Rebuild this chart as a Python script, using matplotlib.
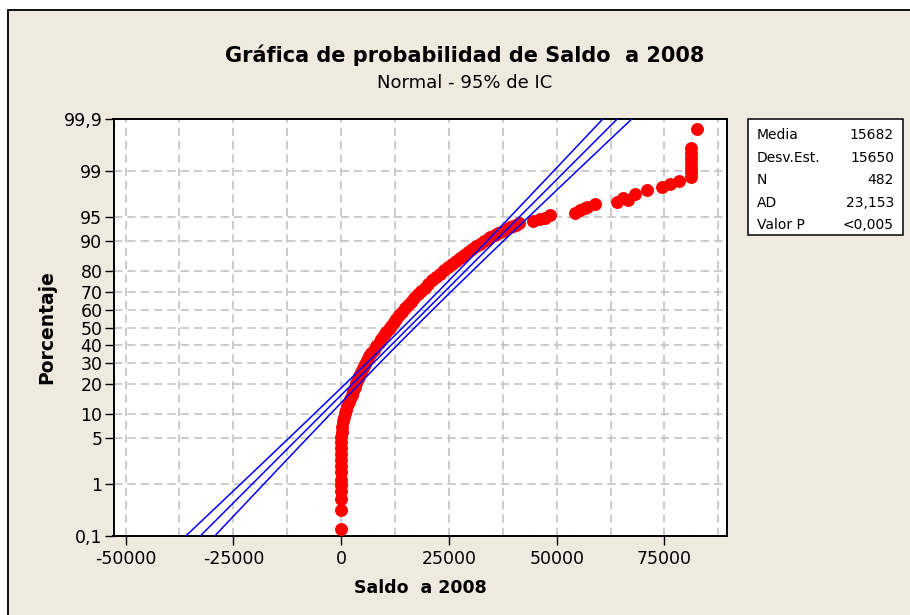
import math
import numpy as np
import matplotlib
matplotlib.use('Agg')
import matplotlib.pyplot as plt
from matplotlib.patches import Rectangle

# puntos (valor, porcentaje)
saldo = [0, 0, 0, 0, 0, 0, 0, 0, 0, 0,
         0, 0, 0, 100, 230, 460, 700, 930, 1160, 1390, 1740, 2090, 2440,
         2780, 3130, 3480, 3830, 4180, 4640, 5100, 5570, 6030, 6500,
         6960, 7540, 8120, 8700, 9280, 9860, 10440, 11020, 11600, 12180,
         12760, 13460, 14150, 14850, 15550, 16240, 16940, 17750, 18560, 19370,
         20180, 21110, 22040, 22970, 23900, 24820, 25750, 26680, 27610, 28540,
         29460, 30390, 31320, 32250, 33180, 34100, 34570, 35730, 36420, 37580,
         38280, 39200, 39900, 40600, 41300,
         44540, 46170, 47330, 48490, 54290, 55450, 56610, 57070, 58930,
         64030, 65420, 66580, 68210, 70990, 74470, 76330, 78420,
         81200, 81200, 81200, 81200, 81200, 81200, 81200, 82590]
porcentaje = [0.14, 0.34, 0.55, 0.77, 0.98, 1.19, 1.61, 2.0, 2.5, 3.05,
              3.7, 4.5, 5.2, 6.1, 7.0, 8.3, 9.25, 10.3, 11.1, 12.2, 13.5, 14.5, 15.9,
              17.3, 18.9, 20.6, 22.1, 23.6, 25.5, 27.4, 29.4, 31.5, 33.4,
              35.3, 37.2, 39.2, 41.2, 43.2, 45.3, 47.3, 49.1, 50.9, 53.0,
              55.0, 57.1, 59.1, 61.1, 63.0, 65.0, 66.9, 68.8, 70.6, 72.3,
              74.0, 75.7, 77.3, 78.8, 80.3, 81.5, 82.7, 83.8, 84.8, 85.9,
              86.8, 87.8, 88.6, 89.3, 90.0, 90.5, 91.0, 91.5, 91.9, 92.4,
              92.8, 93.1, 93.4, 93.65, 93.9,
              94.27, 94.6, 94.76, 95.2, 95.5, 95.9, 96.2, 96.3, 96.6,
              96.85, 97.25, 97.05, 97.6, 97.9, 98.13, 98.32, 98.5,
              98.71, 98.94, 99.09, 99.26, 99.4, 99.51, 99.61, 99.84]

media = 15682
desv = 15650
n = 482
stats_labels = ['Media', 'Desv.Est.', 'N', 'AD', 'Valor P']
stats_values = ['15682', '15650', '482', '23,153', '<0,005']

yticks = [0.1, 1, 5, 10, 20, 30, 40, 50, 60, 70, 80, 90, 95, 99, 99.9]
ytick_labels = ['0,1', '1', '5', '10', '20', '30', '40', '50', '60', '70',
                '80', '90', '95', '99', '99,9']
xticks = [-50000, -25000, 0, 25000, 50000, 75000]
xminor = [-37500, -12500, 12500, 37500, 62500, 87500]

a = [-3.969683028665376e+01, 2.209460984245205e+02, -2.759285104469687e+02,
     1.383577518672690e+02, -3.066479806614716e+01, 2.506628277459239e+00]
b = [-5.447609879822406e+01, 1.615858368580409e+02, -1.556989798598866e+02,
     6.680131188771972e+01, -1.328068155922803e+01]
c = [-7.784894002430293e-03, -3.223964580411365e-01, -2.400758277161838e+00,
     -2.549732539343734e+00, 4.374664141464968e+00, 2.938163982698783e+00]
d = [7.784695709041462e-03, 3.224671290700398e-01, 2.445134137142996e+00,
     3.754408661907416e+00]


def ppf(p):
    p = np.clip(np.asarray(p, float), 1e-12, 1 - 1e-12)
    q = p - 0.5
    r = q * q
    central = (((((a[0]*r+a[1])*r+a[2])*r+a[3])*r+a[4])*r+a[5])*q / \
              (((((b[0]*r+b[1])*r+b[2])*r+b[3])*r+b[4])*r+1)
    pt = np.minimum(p, 1 - p)
    s = np.sqrt(-2 * np.log(pt))
    tail = (((((c[0]*s+c[1])*s+c[2])*s+c[3])*s+c[4])*s+c[5]) / \
           ((((d[0]*s+d[1])*s+d[2])*s+d[3])*s+1)
    tail = np.where(p < 0.5, tail, -tail)
    return np.where(pt < 0.02425, tail, central)


erf = np.vectorize(math.erf)


def cdf(z):
    return 0.5 * (1 + erf(np.asarray(z, float) / math.sqrt(2)))


def fwd(p):
    return ppf(np.asarray(p, float) / 100)


def inv(z):
    return cdf(z) * 100


fig = plt.figure(figsize=(9.1, 6.15), dpi=100, facecolor='white')
fig.patches.append(Rectangle((8 / 910, -0.1), 1.2, 1 - 10 / 615 + 0.1,
                             transform=fig.transFigure, facecolor='#eeeae0',
                             edgecolor='black', linewidth=1.3, zorder=-10))

ax = fig.add_axes([113.5 / 910, 1 - 536 / 615, (727 - 113.5) / 910, (536 - 119) / 615])
ax.set_yscale('function', functions=(fwd, inv))
ax.set_xlim(-52800, 89500)
ax.set_ylim(0.1, 99.9)

# linea ajustada e intervalos de confianza
z = np.linspace(ppf(0.001), ppf(0.999), 300)
pz = inv(z)
xfit = media + desv * z
se = desv * np.sqrt((1 + z**2 / 2) / n)
for xx in [xfit, xfit - 1.96 * se, xfit + 1.96 * se]:
    ax.plot(xx, pz, color='#0000ff', lw=1.1, zorder=4)

ax.plot(saldo, porcentaje, 'o', color='#ff0000', ms=9.3, mec='none', zorder=3)

ax.set_xticks(xticks)
ax.set_xticklabels([str(v) for v in xticks])
ax.set_xticks(xminor, minor=True)
ax.set_yticks(yticks)
ax.set_yticklabels(ytick_labels)
ax.yaxis.set_minor_locator(matplotlib.ticker.NullLocator())
ax.tick_params(axis='both', which='major', direction='out', length=6.5, width=1,
               labelsize=12.5, pad=1.5)
ax.tick_params(axis='x', which='major', pad=3.5)
ax.tick_params(axis='x', which='minor', length=0)
ax.grid(True, which='both', axis='x', color='#c4c4c4', ls=(0, (5, 3)), lw=1.2)
ax.grid(True, which='major', axis='y', color='#c4c4c4', ls=(0, (5, 3)), lw=1.2)
ax.set_axisbelow(True)
for sp in ax.spines.values():
    sp.set_linewidth(1.4)

ax.set_xlabel('Saldo  a 2008', fontsize=12.5, fontweight='bold', labelpad=8)
ax.set_ylabel('Porcentaje', fontsize=13.5, fontweight='bold', labelpad=5)

fig.text(465 / 910, 1 - 55 / 615, 'Gráfica de probabilidad de Saldo  a 2008',
         ha='center', va='center', fontsize=15, fontweight='bold')
fig.text(465 / 910, 1 - 83 / 615, 'Normal - 95% de IC', ha='center', va='center',
         fontsize=13)

# cuadro de estadisticas
fig.patches.append(Rectangle((748 / 910, 1 - 235 / 615), 155 / 910, 116 / 615,
                             transform=fig.transFigure, facecolor='white',
                             edgecolor='black', linewidth=1.1))
for i in range(len(stats_labels)):
    yy = 1 - (135 + 22.5 * i) / 615
    fig.text(757 / 910, yy, stats_labels[i], ha='left', va='center', fontsize=10)
    fig.text(894 / 910, yy, stats_values[i], ha='right', va='center', fontsize=10)

fig.savefig('out.png', dpi=100, facecolor=fig.get_facecolor())
